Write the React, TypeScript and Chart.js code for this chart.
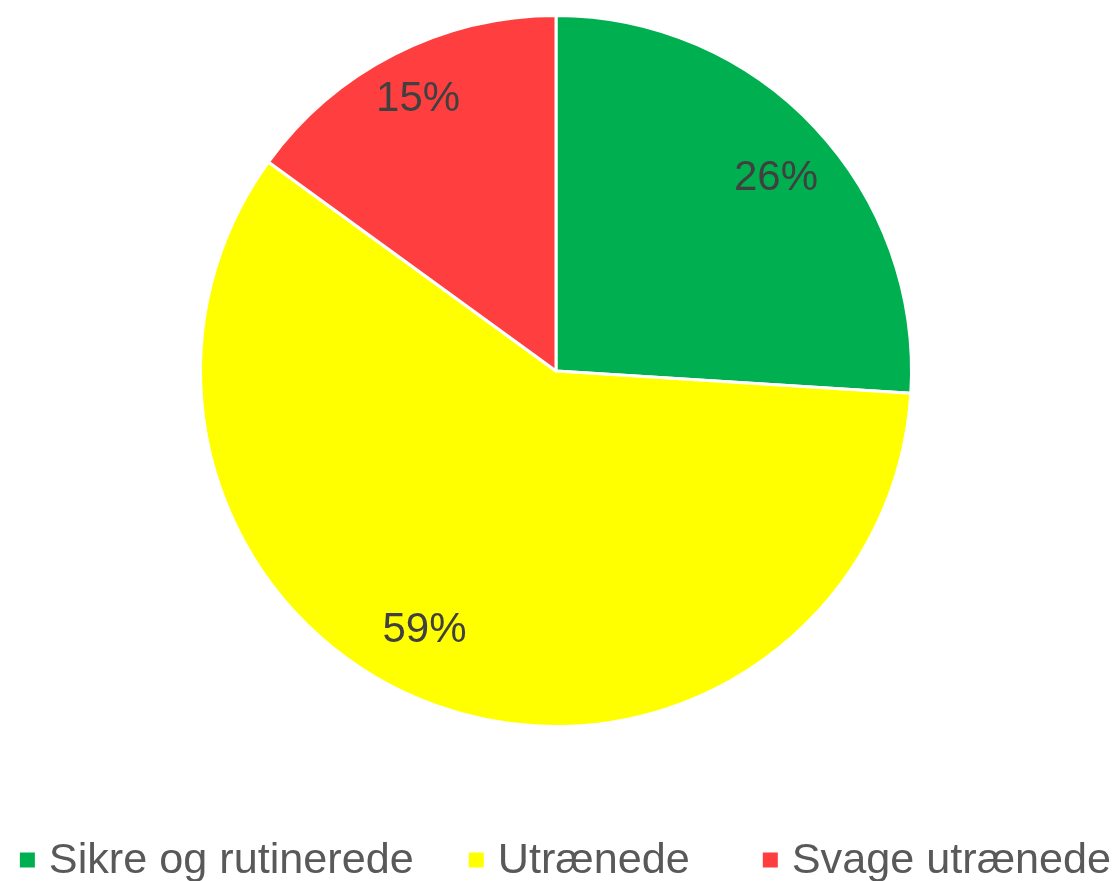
import React, { useEffect, useRef } from "react";
import { Chart, registerables } from "chart.js";

Chart.register(...registerables);

const categories = ["Sikre og rutinerede", "Utrænede", "Svage utrænede"];
const shares = [26, 59, 15];
const labels = ["26%", "59%", "15%"];
const colors = ["#00B050", "#FFFF00", "#FF3F3F"];

const FONT = '"Liberation Sans", Arial, sans-serif';
const labelRadius = [0.825, 0.815, 0.86];
const labelShiftDeg = [1.8, 7.2, 0.2];
const legendGaps = [55, 73];

const dataLabelPlugin = {
  id: "dataLabels",
  afterDatasetsDraw(chart: any) {
    const ctx = chart.ctx;
    const meta = chart.getDatasetMeta(0);
    ctx.save();
    ctx.font = `42px ${FONT}`;
    ctx.fillStyle = "#404040";
    ctx.textAlign = "center";
    ctx.textBaseline = "middle";
    meta.data.forEach((arc: any, i: number) => {
      const { x, y, startAngle, endAngle, outerRadius } = arc.getProps(
        ["x", "y", "startAngle", "endAngle", "outerRadius"],
        true
      );
      const mid = (startAngle + endAngle) / 2 + (labelShiftDeg[i] * Math.PI) / 180;
      const r = outerRadius * labelRadius[i];
      ctx.fillText(labels[i], x + Math.cos(mid) * r, y + Math.sin(mid) * r + 1);
    });
    ctx.restore();
  },
};

const legendPlugin = {
  id: "customLegend",
  afterDraw(chart: any) {
    const ctx = chart.ctx;
    ctx.save();
    ctx.font = `43.2px ${FONT}`;
    const box = 15;
    const gap = 14;
    const widths = categories.map((c) => ctx.measureText(c).width);
    let total = widths.reduce((a, w) => a + box + gap + w, 0);
    legendGaps.forEach((g) => (total += g));
    let x = (chart.width - total) / 2 + 9.5;
    const cy = 860;
    ctx.textBaseline = "middle";
    ctx.textAlign = "left";
    categories.forEach((c, i) => {
      ctx.fillStyle = colors[i];
      ctx.fillRect(x, cy - box / 2, box, box);
      ctx.fillStyle = "#595959";
      ctx.fillText(c, x + box + gap, cy + 1);
      x += box + gap + widths[i] + (legendGaps[i] || 0);
    });
    ctx.restore();
  },
};

export default function App() {
  const ref = useRef<HTMLCanvasElement | null>(null);
  useEffect(() => {
    document.body.style.margin = "0";
    const chart = new Chart(ref.current as HTMLCanvasElement, {
      type: "pie",
      data: {
        labels: categories,
        datasets: [
          {
            data: shares,
            backgroundColor: colors,
            borderColor: "#FFFFFF",
            borderWidth: 3,
          },
        ],
      },
      options: {
        animation: false,
        responsive: true,
        maintainAspectRatio: false,
        layout: { padding: { top: 14, bottom: 153, left: 0, right: 0 } },
        plugins: {
          legend: { display: false },
          tooltip: { enabled: false },
        },
      },
      plugins: [dataLabelPlugin, legendPlugin],
    });
    return () => chart.destroy();
  }, []);
  return (
    <div style={{ position: "fixed", left: 0, top: 0, width: 1112, height: 881, background: "#fff" }}>
      <canvas ref={ref} />
    </div>
  );
}
